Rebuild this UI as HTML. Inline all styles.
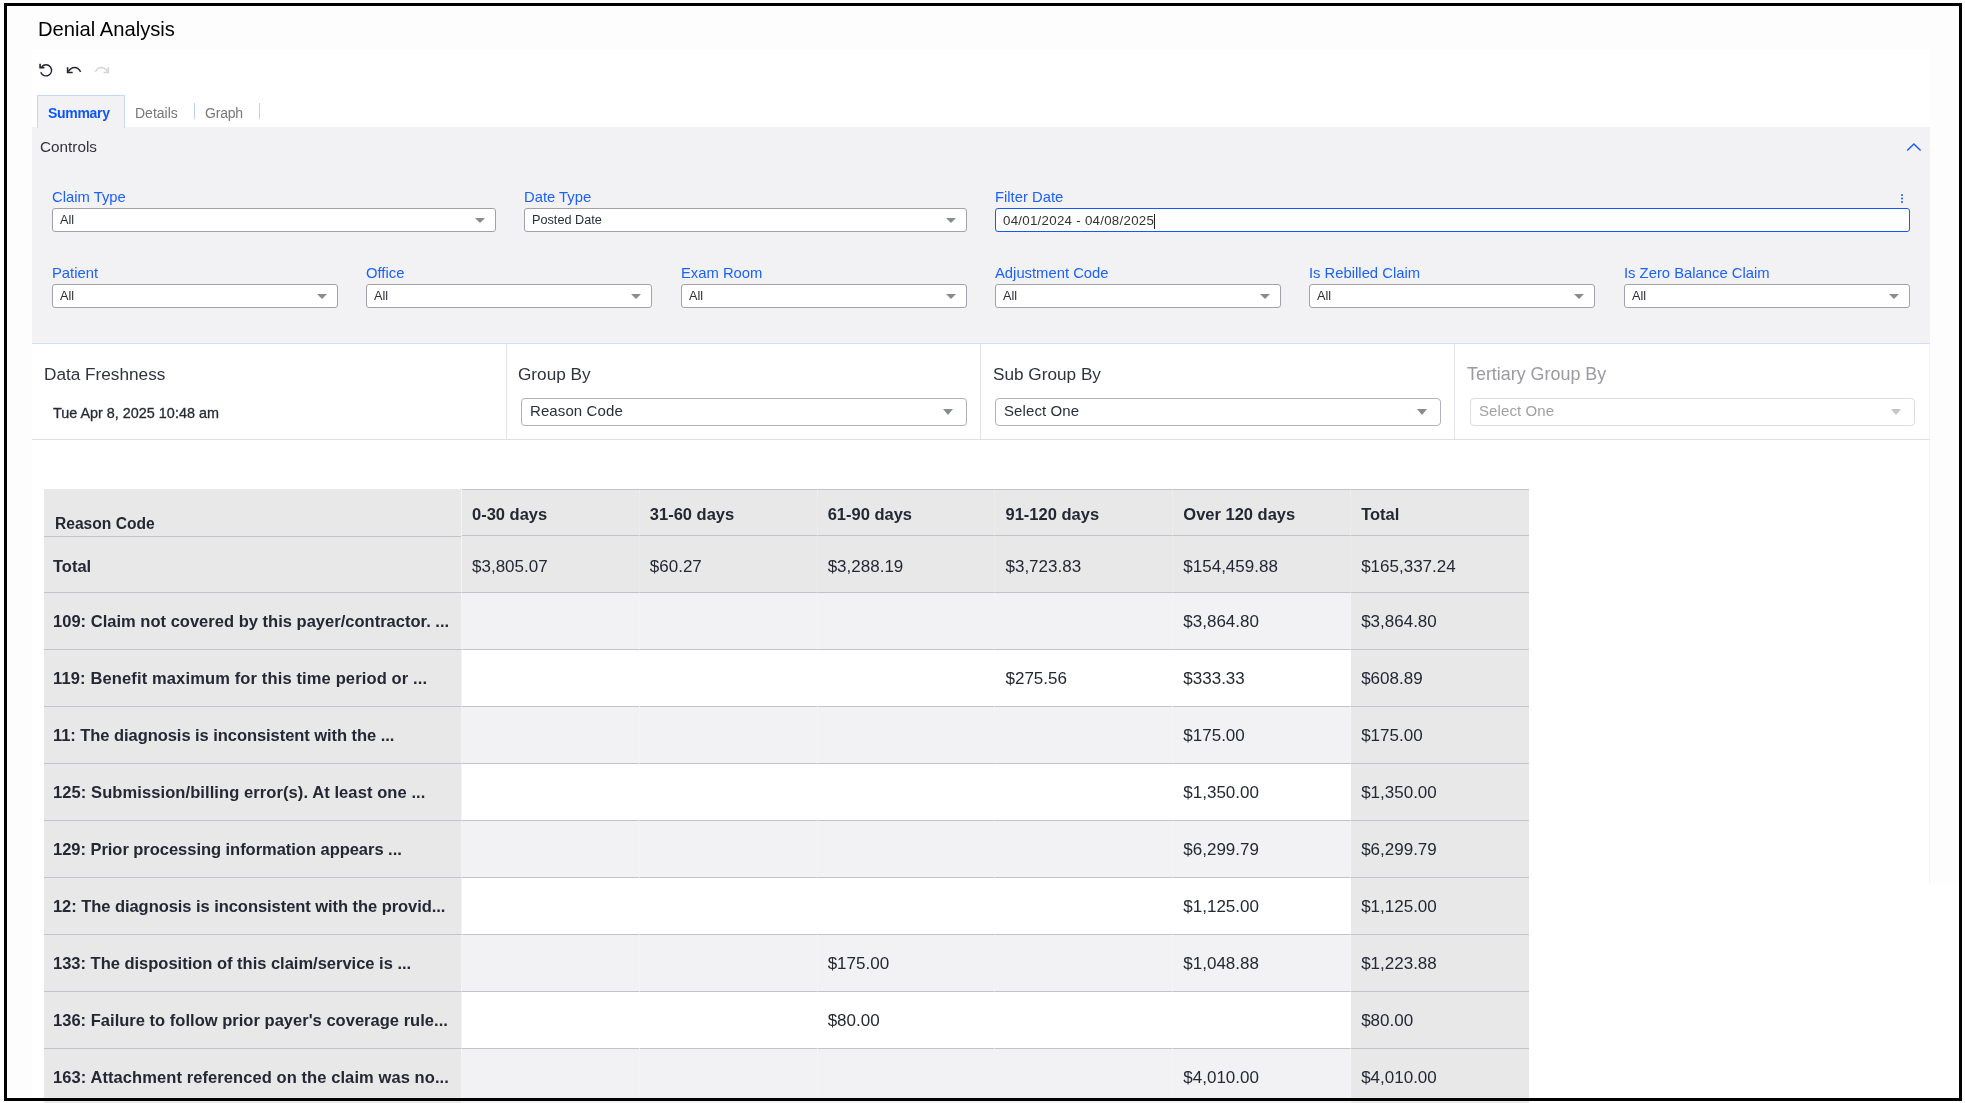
<!DOCTYPE html>
<html><head><meta charset="utf-8"><title>Denial Analysis</title>
<style>
*{box-sizing:border-box;margin:0;padding:0}
html,body{width:1965px;height:1103px;overflow:hidden;background:#fff}
body{font-family:"Liberation Sans",sans-serif;position:relative;color:#333}
#wrap{position:absolute;left:0;top:0;width:1965px;height:1103px;will-change:transform}
.abs{position:absolute}
#outer{left:7px;top:6px;width:1952px;height:1092px;background:#fdfdfd}
#frame{left:4px;top:3px;width:1958px;height:1098px;border:3px solid #000;z-index:50}
#title{left:38px;top:17px;font-size:20.2px;color:#000;white-space:nowrap;line-height:24px}
#panel{left:32px;top:49px;width:1898px;height:1049px;background:#fff}
.tab{top:95px;height:33px;font-size:13.3px;line-height:16px;white-space:nowrap}
#tabSum{left:37px;width:88px;background:#f2f2f5;border:1px solid #c6d6f4;border-bottom:none;color:#0c55fa;font-weight:bold;padding:9px 0 0 10px;font-size:14px;letter-spacing:-.3px;z-index:2}
#controls{left:32px;top:127px;width:1898px;height:217px;background:#f2f2f5;border-bottom:1px solid #d4def2}
.lbl{font-size:14.8px;color:#1c61fa;white-space:nowrap;line-height:16px}
.sel{background:#fff;border:1px solid #a2a1a9;border-radius:3px;height:24px;font-size:12.7px;color:#2c2e3a;line-height:22px;padding-left:7px;white-space:nowrap}
.tri{position:absolute;width:0;height:0;border-left:5px solid transparent;border-right:5px solid transparent;border-top:5px solid #898b93}
.gb{font-size:17.2px;color:#30323e;white-space:nowrap;line-height:20px}
.gsel{background:#fff;border:1px solid #b2b1b8;border-radius:4px;height:28px;font-size:15px;color:#2c2e3a;line-height:24px;padding-left:8px;letter-spacing:.1px;white-space:nowrap}
.vdiv{position:absolute;top:344px;width:1px;height:95px;background:#e4e4e6}
table{position:absolute;left:44px;top:489px;width:1485px;border-collapse:separate;border-spacing:0;table-layout:fixed;color:#252734}
td,th{white-space:nowrap;overflow:hidden;text-align:left;padding:0 0 0 10px;height:57px;font-size:17px;font-weight:normal;border-bottom:1px solid #c2c2c9}

tr.hd th{height:47px;background:#e8e8e9;font-weight:bold;font-size:16.5px;border-top:1px solid #c2c2c9;vertical-align:top;padding-top:15px}
tr.hd th.rc{border-top:none;border-bottom-color:#e8e8e9;vertical-align:top;padding-top:26px;padding-left:11px;font-size:15.6px}
tr.tot td{background:#e8e8e9}
td.rh{background:#e8e8e9;font-weight:bold;font-size:16.5px;padding-left:9px}
tr.odd td{background:#f2f2f4}
tr.even td{background:#fff}
tr.odd td.rh,tr.even td.rh,tr.odd td.tc,tr.even td.tc{background:#e8e8e9}
td:first-child,th:first-child{border-right:1px solid #f4f4f6}
td+td,th+th{border-right:1px solid rgba(255,255,255,.2)}
td:last-child,th:last-child{border-right:none}
td{vertical-align:top;padding-top:19px}
tr.tot td{padding-top:21px}
</style></head><body><div id="wrap">
<div id="outer" class="abs"></div>
<div id="frame" class="abs"></div>
<div id="panel" class="abs"></div>
<div class="abs" style="left:1930px;top:884px;width:30px;height:215px;background:#fff"></div>
<div class="abs" style="left:1929px;top:344px;width:1px;height:540px;background:#f3f3f5"></div>
<div id="title" class="abs">Denial Analysis</div>
<svg class="abs" style="left:38px;top:61px" width="16" height="18" viewBox="0 0 16 18">
<path d="M2.1 2.8 V6.6 H6.4" fill="none" stroke="#23232f" stroke-width="1.6" stroke-linecap="butt" stroke-linejoin="miter"/>
<path d="M3.7 5.7 A5.6 5.6 0 1 1 2.74 11.22" fill="none" stroke="#23232f" stroke-width="1.4"/>
</svg>
<svg class="abs" style="left:65px;top:64px" width="18" height="12" viewBox="0 0 18 12">
<path d="M2.6 3.3 V8.5 H7.7" fill="none" stroke="#23232f" stroke-width="1.6" stroke-linecap="butt"/>
<path d="M3.3 7.7 C5 4.8 7.3 3.5 9.6 3.5 C12 3.5 14.2 4.9 15.6 7.9" fill="none" stroke="#23232f" stroke-width="1.4"/>
</svg>
<svg class="abs" style="left:93px;top:64px" width="18" height="12" viewBox="0 0 18 12">
<path d="M15.3 3.3 V8.5 H10.6" fill="none" stroke="#d4d4d8" stroke-width="1.6" stroke-linecap="butt"/>
<path d="M2.4 7.8 C3.8 4.9 6 3.5 8.2 3.5 C10.5 3.5 12.8 4.8 14.6 7.6" fill="none" stroke="#d4d4d8" stroke-width="1.4"/>
</svg>
<div id="controls" class="abs"></div>
<div id="tabSum" class="abs tab">Summary</div>
<div class="abs tab" style="left:135px;top:105px;color:#77777c;font-size:14px;letter-spacing:0px">Details</div>
<div class="abs" style="left:194px;top:103px;width:1px;height:16px;background:#bccff5"></div>
<div class="abs tab" style="left:205px;top:105px;color:#77777c;font-size:14px;letter-spacing:-.2px">Graph</div>
<div class="abs" style="left:259px;top:103px;width:1px;height:16px;background:#bccff5"></div>
<div class="abs" style="left:40px;top:139px;font-size:15.3px;color:#333338;line-height:16px">Controls</div>
<svg class="abs" style="left:1905px;top:141px" width="18" height="12" viewBox="0 0 18 12"><path d="M2.2 9.6 L8.9 3 L15.6 9.6" fill="none" stroke="#1458f8" stroke-width="1.35"/></svg>

<div class="abs lbl" style="left:52px;top:189px">Claim Type</div>
<div class="abs sel" style="left:52px;top:208px;width:444px">All<span class="tri" style="left:422px;top:9px"></span></div>

<div class="abs lbl" style="left:524px;top:189px">Date Type</div>
<div class="abs sel" style="left:524px;top:208px;width:443px">Posted Date<span class="tri" style="left:421px;top:9px"></span></div>

<div class="abs lbl" style="left:995px;top:189px">Filter Date</div>
<div class="abs" style="left:995px;top:208px;width:915px;height:24px;background:#fff;border:1.5px solid #1458f8;border-radius:3px;font-size:13.3px;letter-spacing:.27px;color:#333;line-height:21px;padding:1px 0 0 7px;white-space:nowrap">04/01/2024 - 04/08/2025<span style="display:inline-block;width:1px;height:15px;background:#222;vertical-align:-4px"></span></div>
<div class="abs" style="left:1901px;top:194px;width:2px;height:2px;background:#1458f8;border-radius:1px;box-shadow:0 3.5px 0 #1458f8,0 7px 0 #1458f8"></div>

<div class="abs lbl" style="left:52px;top:265px">Patient</div>
<div class="abs sel" style="left:52px;top:284px;width:286px">All<span class="tri" style="left:264px;top:9px"></span></div>

<div class="abs lbl" style="left:366px;top:265px">Office</div>
<div class="abs sel" style="left:366px;top:284px;width:286px">All<span class="tri" style="left:264px;top:9px"></span></div>

<div class="abs lbl" style="left:681px;top:265px">Exam Room</div>
<div class="abs sel" style="left:681px;top:284px;width:286px">All<span class="tri" style="left:264px;top:9px"></span></div>

<div class="abs lbl" style="left:995px;top:265px">Adjustment Code</div>
<div class="abs sel" style="left:995px;top:284px;width:286px">All<span class="tri" style="left:264px;top:9px"></span></div>

<div class="abs lbl" style="left:1309px;top:265px">Is Rebilled Claim</div>
<div class="abs sel" style="left:1309px;top:284px;width:286px">All<span class="tri" style="left:264px;top:9px"></span></div>

<div class="abs lbl" style="left:1624px;top:265px">Is Zero Balance Claim</div>
<div class="abs sel" style="left:1624px;top:284px;width:286px">All<span class="tri" style="left:264px;top:9px"></span></div>

<div class="abs" style="left:32px;top:439px;width:1898px;height:1px;background:#e0e0e3"></div>
<div class="vdiv" style="left:506px"></div>
<div class="vdiv" style="left:980px"></div>
<div class="vdiv" style="left:1454px"></div>
<div class="abs gb" style="left:44px;top:364px">Data Freshness</div>
<div class="abs" style="left:53px;top:405px;font-size:14.4px;font-weight:500;color:#282a36;white-space:nowrap;line-height:16px;-webkit-text-stroke:.3px #282a36">Tue Apr 8, 2025 10:48 am</div>
<div class="abs gb" style="left:518px;top:364px">Group By</div>
<div class="abs gsel" style="left:521px;top:398px;width:446px">Reason Code<span class="tri" style="left:421px;top:10px;border-left-width:5.5px;border-right-width:5.5px;border-top-width:6px"></span></div>
<div class="abs gb" style="left:993px;top:364px">Sub Group By</div>
<div class="abs gsel" style="left:995px;top:398px;width:446px">Select One<span class="tri" style="left:421px;top:10px;border-left-width:5.5px;border-right-width:5.5px;border-top-width:6px"></span></div>
<div class="abs gb" style="left:1467px;top:364px;color:#9a9aa0;font-size:17.9px">Tertiary Group By</div>
<div class="abs gsel" style="left:1470px;top:398px;width:445px;border-color:#dcdce0;color:#a0a0a6">Select One<span class="tri" style="left:420px;top:10px;border-left-width:5.5px;border-right-width:5.5px;border-top-width:6px;border-top-color:#c4c4c8"></span></div>

<table><colgroup><col style="width:418px"><col><col><col><col><col><col></colgroup>
<tr class="hd"><th class="rc">Reason Code</th><th>0-30 days</th><th>31-60 days</th><th>61-90 days</th><th>91-120 days</th><th>Over 120 days</th><th>Total</th></tr>
<tr class="tot"><td class="rh">Total</td><td>$3,805.07</td><td>$60.27</td><td>$3,288.19</td><td>$3,723.83</td><td>$154,459.88</td><td>$165,337.24</td></tr>
<tr class="odd"><td class="rh" style="letter-spacing:0.018px">109: Claim not covered by this payer/contractor. ...</td><td></td><td></td><td></td><td></td><td>$3,864.80</td><td class="tc">$3,864.80</td></tr>
<tr class="even"><td class="rh" style="letter-spacing:0.138px">119: Benefit maximum for this time period or ...</td><td></td><td></td><td></td><td>$275.56</td><td>$333.33</td><td class="tc">$608.89</td></tr>
<tr class="odd"><td class="rh" style="letter-spacing:-0.056px">11: The diagnosis is inconsistent with the ...</td><td></td><td></td><td></td><td></td><td>$175.00</td><td class="tc">$175.00</td></tr>
<tr class="even"><td class="rh" style="letter-spacing:0.090px">125: Submission/billing error(s). At least one ...</td><td></td><td></td><td></td><td></td><td>$1,350.00</td><td class="tc">$1,350.00</td></tr>
<tr class="odd"><td class="rh" style="letter-spacing:-0.034px">129: Prior processing information appears ...</td><td></td><td></td><td></td><td></td><td>$6,299.79</td><td class="tc">$6,299.79</td></tr>
<tr class="even"><td class="rh" style="letter-spacing:-0.053px">12: The diagnosis is inconsistent with the provid...</td><td></td><td></td><td></td><td></td><td>$1,125.00</td><td class="tc">$1,125.00</td></tr>
<tr class="odd"><td class="rh" style="letter-spacing:-0.008px">133: The disposition of this claim/service is ...</td><td></td><td></td><td>$175.00</td><td></td><td>$1,048.88</td><td class="tc">$1,223.88</td></tr>
<tr class="even"><td class="rh" style="letter-spacing:0.023px">136: Failure to follow prior payer's coverage rule...</td><td></td><td></td><td>$80.00</td><td></td><td></td><td class="tc">$80.00</td></tr>
<tr class="odd"><td class="rh" style="letter-spacing:0.083px">163: Attachment referenced on the claim was no...</td><td></td><td></td><td></td><td></td><td>$4,010.00</td><td class="tc">$4,010.00</td></tr>
</table>
<div class="abs" style="left:44px;top:536px;width:417px;height:1px;background:#c2c2c9"></div>
</div></body></html>
